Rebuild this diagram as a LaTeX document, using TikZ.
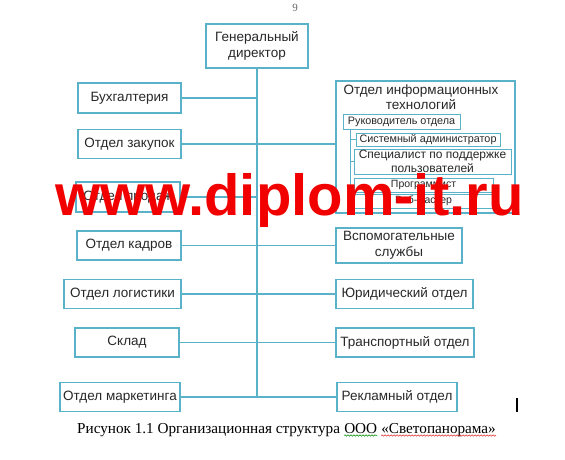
\documentclass[tikz,border=0pt]{standalone}
\usepackage{fontspec}
\setmainfont{Liberation Serif}
\newfontfamily\arialf{Liberation Sans}
\usetikzlibrary{calc,decorations.pathmorphing}
\definecolor{tealc}{RGB}{90,178,200}
\definecolor{txtc}{RGB}{40,40,40}
\definecolor{wmred}{RGB}{242,0,0}
\begin{document}
\begin{tikzpicture}[x=1pt,y=-1pt,
  box/.style={draw=tealc, line width=1.2pt, inner sep=0pt, align=center, text=txtc,
    font=\arialf\fontsize{13.5}{16}\selectfont},
  sbox/.style={draw=tealc, line width=1pt, inner sep=0pt, align=center, text=txtc,
    font=\arialf\fontsize{10.8}{13}\selectfont},
  conn/.style={draw=tealc, line width=1.2pt},
  sconn/.style={draw=tealc, line width=0.9pt},
  squig/.style={decorate, decoration={snake, segment length=3pt, amplitude=0.7pt}, line width=0.5pt}
]
\fill[white] (0,0) rectangle (565,460);
\useasboundingbox (0,0) rectangle (565,460);

% page number
\node[font=\fontsize{11}{12}\selectfont, text=black!60, inner sep=0] (pnum) at (295,8) {9};

% top
\node[box, minimum width=102, minimum height=44] (gd) at (257,46) {Генеральный\\директор};

% left column
\node[box, minimum width=103, minimum height=30] (buh) at (129.5,98) {Бухгалтерия};
\node[box, minimum width=103, minimum height=29] (zak) at (129.5,144) {Отдел закупок};
\node[box, minimum width=104, minimum height=30] (prod) at (128,197) {Отдел продаж};
\node[box, minimum width=104, minimum height=29] (kadr) at (129,245.5) {Отдел кадров};
\node[box, minimum width=117, minimum height=29] (log) at (122.5,294) {Отдел логистики};
\node[box, minimum width=104, minimum height=29] (sklad) at (127,342.5) {Склад};
\node[box, minimum width=120, minimum height=29] (mark) at (120,397) {Отдел маркетинга};

% right column
\node[draw=tealc, line width=1.2pt, minimum width=179, minimum height=132, inner sep=0] (it) at (425.5,147) {};
\node[align=center, inner sep=0, text=txtc, font=\arialf\fontsize{13.5}{14.5}\selectfont] (ittitle) at (421,97) {Отдел информационных\\технологий};
\node[sbox, minimum width=117, minimum height=15] (ruk) at (401.5,121.5) {Руководитель отдела};
\node[sbox, minimum width=144, minimum height=13] (sys) at (428,139.5) {Системный администратор};
\node[sbox, minimum width=157, minimum height=25, font=\arialf\fontsize{12}{14}\selectfont] (spec) at (432.5,161.5) {Специалист по поддержке\\пользователей};
\node[sbox, minimum width=139, minimum height=14, font=\arialf\fontsize{10.5}{12}\selectfont] (prog) at (423.5,185) {Программист};
\node[sbox, minimum width=139, minimum height=14, font=\arialf\fontsize{10.5}{12}\selectfont] (web) at (423.5,201) {Веб-мастер};

\node[box, minimum width=126, minimum height=35] (vsp) at (399,245.5) {Вспомогательные\\службы};
\node[box, minimum width=137, minimum height=29] (jur) at (404.5,294) {Юридический отдел};
\node[box, minimum width=138, minimum height=29] (trans) at (405,342.5) {Транспортный отдел};
\node[box, minimum width=120, minimum height=29] (rekl) at (397,397) {Рекламный отдел};

% trunk
\coordinate (tend) at (257,397);
\draw[conn] (gd.south) -- (tend);

% connectors
\draw[conn] (buh.east) -- (buh.east -| gd.south);
\draw[conn] (zak.east) -- (zak.east -| it.west);
\draw[conn] (prod.east) -- (prod.east -| gd.south);
\draw[conn] (kadr.east) -- (vsp.west);
\draw[conn] (log.east) -- (jur.west);
\draw[conn] (sklad.east) -- (trans.west);
\draw[conn] (mark.east) -- (rekl.west);

% IT internal branch
\coordinate (brtop) at (350,129);
\coordinate (brbot) at (350,201);
\draw[sconn] (brtop) -- (brbot);
\draw[sconn] (sys.west -| brtop) -- (sys.west);
\draw[sconn] (spec.west -| brtop) -- (spec.west);
\draw[sconn] (prog.west -| brtop) -- (prog.west);
\draw[sconn] (web.west -| brtop) -- (web.west);

% caption
\node[anchor=base west, inner sep=0, font=\fontsize{15.2}{17}\selectfont] (cap) at (77,433) {Рисунок 1.1 Организационная структура};
\node[anchor=base west, inner sep=0, font=\fontsize{15.2}{17}\selectfont] (ooo) at ($(cap.base east)+(3.8,0)$) {ООО};
\node[anchor=base west, inner sep=0, font=\fontsize{15.2}{17}\selectfont] (sveto) at ($(ooo.base east)+(3.8,0)$) {«Светопанорама»};
\draw[squig, green!55!black] ($(ooo.base west)+(0,2.5)$) -- ($(ooo.base east)+(0,2.5)$);
\draw[squig, red!85!black] ($(sveto.base west)+(0,2.5)$) -- ($(sveto.base east)+(0,2.5)$);

% text cursor
\coordinate (cur1) at (517,398);
\coordinate (cur2) at (517,412);
\draw[line width=1.8pt] (cur1) -- (cur2);

% watermark
\node[anchor=base west, inner sep=0, text=wmred, font=\arialf\bfseries\fontsize{58}{58}\selectfont] (wm) at (55,215) {www.diplom-it.ru};
\end{tikzpicture}
\end{document}
